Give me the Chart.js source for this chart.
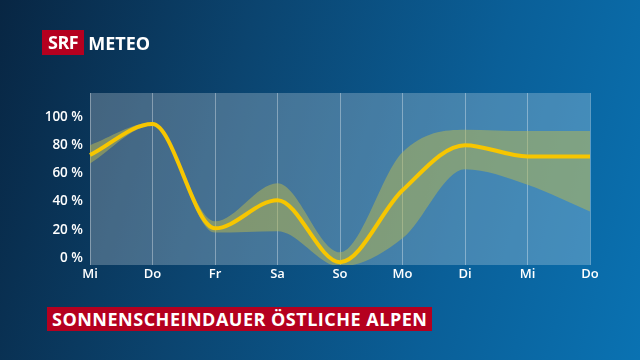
<!DOCTYPE html>
<html><head><meta charset="utf-8">
<script src="https://cdn.jsdelivr.net/npm/chart.js@4/dist/chart.umd.min.js"></script>
<style>
html,body{margin:0;padding:0;}
body{width:640px;height:360px;overflow:hidden;position:relative;
background:linear-gradient(105deg,#082643 0%,#0b446f 35%,#0a5f98 70%,#0a72b2 100%);
font-family:"Open Sans",sans-serif;}
#c{position:absolute;left:0;top:0;}
#logo{position:absolute;left:42px;top:30px;height:25px;display:flex;align-items:center;}
#srf{background:#b5001f;color:#fff;font-weight:700;font-size:18px;height:25px;line-height:25px;padding:0 6px;letter-spacing:-0.5px;}
#meteo{color:#fff;font-weight:700;font-size:18px;margin-left:4px;letter-spacing:0px;}
#title{position:absolute;left:47px;top:307px;height:24px;line-height:24px;background:#b5001f;color:#fff;font-weight:700;font-size:18px;padding:0 5px;letter-spacing:0.5px;white-space:nowrap;}
</style></head><body>
<canvas id="c" width="640" height="360"></canvas>
<div id="logo"><span id="srf">SRF</span><span id="meteo">METEO</span></div>
<div id="title">SONNENSCHEINDAUER ÖSTLICHE ALPEN</div>
<script>
const days = ['Mi','Do','Fr','Sa','So','Mo','Di','Mi','Do'];
const median = [73, 95, 21, 41, -3, 48, 80, 72, 72];
const upper  = [80, 96, 26, 53, 4, 75, 91, 90, 90];
const lower  = [67, 94, 18, 19, -6, 14, 63, 52, 33];
const yTicks = [0, 20, 40, 60, 80, 100];

const plotBg = {
  id:'plotBg',
  beforeDraw(chart){
    const {ctx, chartArea:a} = chart;
    ctx.save();
    ctx.fillStyle='rgba(255,255,255,0.24)';
    ctx.fillRect(a.left, a.top, a.right-a.left, a.bottom-a.top);
    ctx.restore();
  }
};

new Chart(document.getElementById('c'), {
  type:'line',
  data:{
    labels: days,
    datasets:[
      {data: median, borderColor:'#f7c600', borderWidth:4, pointRadius:0, fill:false, cubicInterpolationMode:'monotone', order:0},
      {data: upper, borderWidth:0, borderColor:'rgba(0,0,0,0)', pointRadius:0, fill:'+1', backgroundColor:'rgba(188,186,78,0.5)', cubicInterpolationMode:'monotone', order:1},
      {data: lower, borderWidth:0, borderColor:'rgba(0,0,0,0)', pointRadius:0, fill:false, cubicInterpolationMode:'monotone', order:2}
    ]
  },
  options:{
    responsive:false, animation:false,
    layout:{padding:{top:93, right:50, left:0, bottom:0}},
    plugins:{legend:{display:false}, tooltip:{enabled:false}},
    scales:{
      x:{
        grid:{color:'rgba(255,255,255,0.35)', lineWidth:1, drawTicks:false},
        border:{display:false},
        ticks:{color:'#fff', font:{family:'Open Sans', size:13, weight:'600'}, padding:1, maxRotation:0, autoSkip:false},
        afterFit(s){ s.height = 95; }
      },
      y:{
        min:-5, max:117,
        grid:{display:false, drawTicks:false},
        border:{display:false},
        afterBuildTicks(s){ s.ticks = yTicks.map(v=>({value:v})); },
        ticks:{color:'#fff', font:{family:'Open Sans', size:13.5, weight:'600'}, padding:7, callback:v=>v+' %'},
        afterFit(s){ s.width = 90; }
      }
    }
  },
  plugins:[plotBg]
});
</script>
</body></html>
